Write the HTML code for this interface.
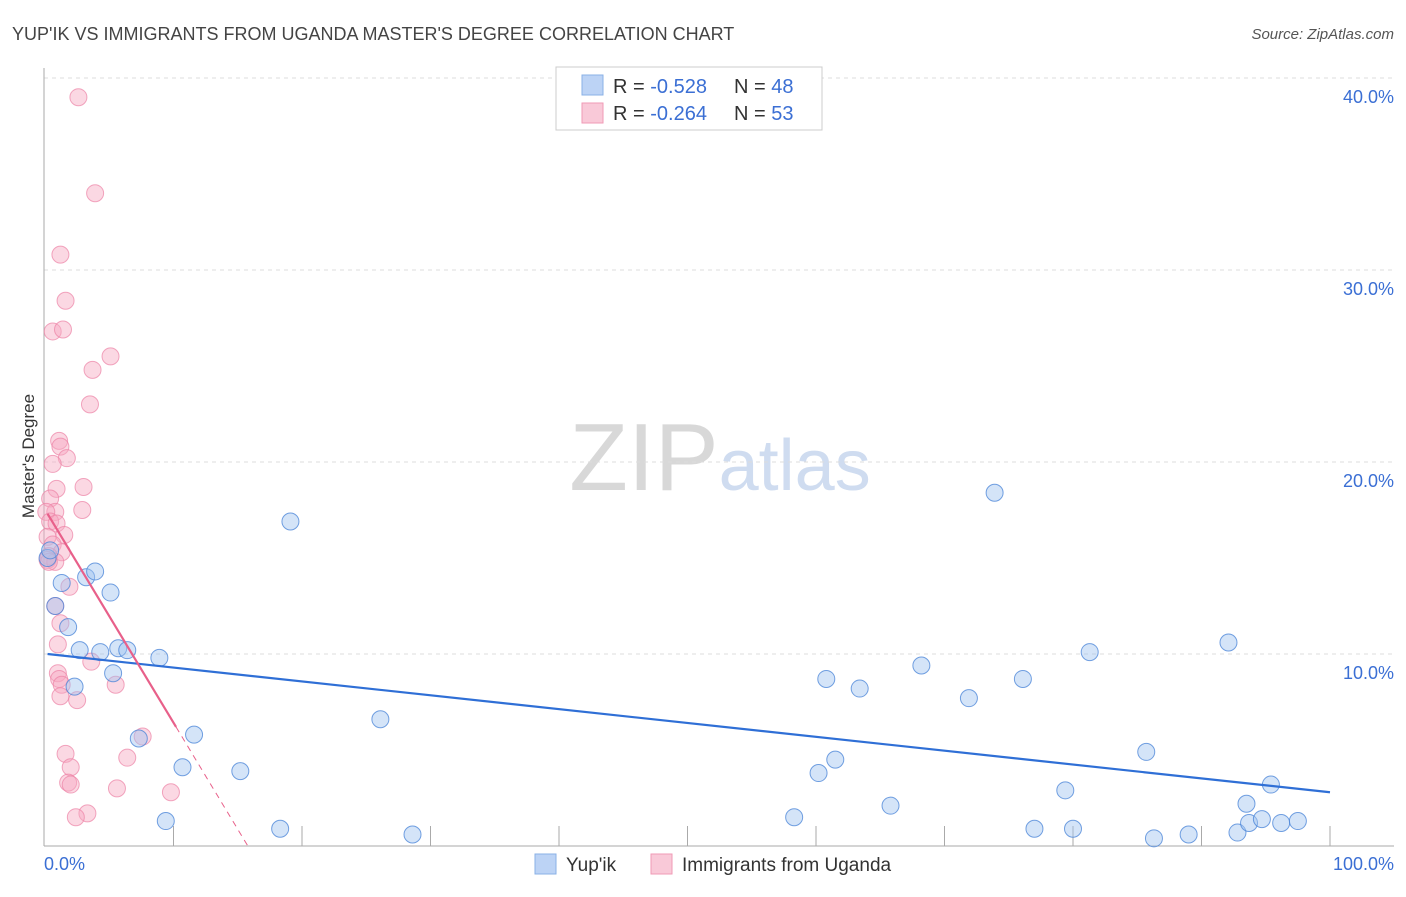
<!DOCTYPE html>
<html><head><meta charset="utf-8"><style>
body{margin:0;background:#fff;font-family:"Liberation Sans",sans-serif;}
svg text{font-family:"Liberation Sans",sans-serif;}
</style></head><body>
<svg id="chart" width="1406" height="892" xmlns="http://www.w3.org/2000/svg">
<text x="12" y="40" font-size="18" fill="#444">YUP'IK VS IMMIGRANTS FROM UGANDA MASTER'S DEGREE CORRELATION CHART</text>
<text x="1394" y="39" font-size="15" fill="#555" font-style="italic" text-anchor="end">Source: ZipAtlas.com</text>
<text x="720" y="490" font-size="96" fill="#ddd" text-anchor="middle" font-family="Liberation Serif"><tspan fill="#d8d8d8">ZIP</tspan><tspan fill="#cfdcf0" font-family="Liberation Sans" font-size="72">atlas</tspan></text>
<g id="grid"></g>
<line x1="44" y1="68" x2="44" y2="846" stroke="#aaa"/>
<line x1="44" y1="846" x2="1394" y2="846" stroke="#aaa"/>
<text transform="translate(34,456) rotate(-90)" font-size="17" fill="#333" text-anchor="middle">Master's Degree</text>
<text x="44" y="870" font-size="18" fill="#3b6fd4">0.0%</text>
<text x="1394" y="870" font-size="18" fill="#3b6fd4" text-anchor="end">100.0%</text>
<g id="ylabels"></g>
<g id="pts"></g>
<g id="lines"></g>
<g>
<rect x="556" y="67" width="266" height="63" fill="#fff" stroke="#ccc"/>
<rect x="582" y="75" width="21" height="20" fill="#bcd3f5" stroke="#8ab0e6"/>
<rect x="582" y="103" width="21" height="20" fill="#f9c9d8" stroke="#f09ab6"/>
<text x="613" y="93" font-size="20" fill="#333">R = <tspan fill="#3b6fd4">-0.528</tspan></text>
<text x="734" y="93" font-size="20" fill="#333">N = <tspan fill="#3b6fd4">48</tspan></text>
<text x="613" y="120" font-size="20" fill="#333">R = <tspan fill="#3b6fd4">-0.264</tspan></text>
<text x="734" y="120" font-size="20" fill="#333">N = <tspan fill="#3b6fd4">53</tspan></text>
</g>
<g>
<rect x="535" y="854" width="21" height="20" fill="#bcd3f5" stroke="#8ab0e6"/>
<text x="566" y="871" font-size="19" fill="#333">Yup'ik</text>
<rect x="651" y="854" width="21" height="20" fill="#f9c9d8" stroke="#f09ab6"/>
<text x="682" y="871" font-size="19" fill="#333">Immigrants from Uganda</text>
</g>
</svg>
<script>
const yTicks=[10,20,30,40];
const yTickLabels=["10.0%","20.0%","30.0%","40.0%"];
const xTicks=[10,20,30,40,50,60,70,80,90,100];
const blueX=[0.8,1.3,1.8,2.7,3.2,3.9,2.3,4.3,5.1,5.3,5.7,6.4,7.3,8.9,9.4,10.7,11.6,15.2,18.3,19.1,26.1,28.6,58.3,60.2,60.8,61.5,63.4,65.8,68.2,71.9,73.9,76.1,77.0,79.4,80.0,81.3,85.7,86.3,89.0,92.1,92.8,93.5,93.7,94.7,95.4,96.2,97.5,0.2,0.4];
const blueY=[12.5,13.7,11.4,10.2,14.0,14.3,8.3,10.1,13.2,9.0,10.3,10.2,5.6,9.8,1.3,4.1,5.8,3.9,0.9,16.9,6.6,0.6,1.5,3.8,8.7,4.5,8.2,2.1,9.4,7.7,18.4,8.7,0.9,2.9,0.9,10.1,4.9,0.4,0.6,10.6,0.7,2.2,1.2,1.4,3.2,1.2,1.3,15.0,15.4];
const pinkX=[2.6,3.9,1.2,1.6,0.6,1.4,5.1,3.7,3.5,1.1,1.2,1.7,0.6,0.9,3.0,0.4,0.8,2.9,0.1,0.4,0.9,1.5,0.2,0.6,1.3,0.3,0.2,0.8,1.9,0.8,1.2,1.0,1.0,1.1,1.3,1.2,2.5,3.6,5.5,7.6,6.4,1.6,2.0,1.8,2.0,3.3,2.4,9.8,5.6,0.3];
const pinkY=[39.0,34.0,30.8,28.4,26.8,26.9,25.5,24.8,23.0,21.1,20.8,20.2,19.9,18.6,18.7,18.1,17.4,17.5,17.4,16.9,16.8,16.2,16.1,15.7,15.3,15.1,14.9,14.8,13.5,12.5,11.6,10.5,9.0,8.7,8.4,7.8,7.6,9.6,8.4,5.7,4.6,4.8,4.1,3.3,3.2,1.7,1.5,2.8,3.0,14.8];
const blueLine=[[0.2,10.0],[100,2.8]];
const pinkLine=[[0.2,17.3],[10.2,6.2]];
const X0=45,X1=1330,YB=846,YT=78;
const sx=v=>X0+(X1-X0)*v/100;
const sy=v=>YB-(YB-YT)*v/40;
const NS="http://www.w3.org/2000/svg";
function mk(tag,attrs,parent){const e=document.createElementNS(NS,tag);for(const k in attrs)e.setAttribute(k,attrs[k]);document.getElementById(parent).appendChild(e);return e;}
yTicks.forEach((t,i)=>{
 const l=mk('line',{x1:44,x2:1394,y1:sy(t),y2:sy(t),stroke:'#ddd','stroke-dasharray':'4,4'},'grid');
 
 
 const tx=mk('text',{x:1394,y:sy(t)+25,'font-size':18,fill:'#3b6fd4','text-anchor':'end'},'ylabels');
 tx.textContent=yTickLabels[i];
 
 
});
xTicks.forEach(t=>{
 const l=mk('line',{x1:sx(t),x2:sx(t),y1:826,y2:846,stroke:'#aaa'},'grid');
 
 
});
pinkX.forEach((x,i)=>{
 const c=mk('circle',{cx:sx(x),cy:sy(pinkY[i]),r:8.5,fill:'rgba(246,168,193,0.45)',stroke:'rgba(236,130,165,0.7)','stroke-width':1},'pts');
 
 
});
blueX.forEach((x,i)=>{
 const c=mk('circle',{cx:sx(x),cy:sy(blueY[i]),r:8.5,fill:'rgba(160,195,240,0.45)',stroke:'rgba(70,130,215,0.75)','stroke-width':1},'pts');
 
 
});
const bl=mk('line',{x1:sx(blueLine[0][0]),y1:sy(blueLine[0][1]),x2:sx(blueLine[1][0]),y2:sy(blueLine[1][1]),stroke:'#2f6fd6','stroke-width':2.2},'lines');


const pl=mk('line',{x1:sx(pinkLine[0][0]),y1:sy(pinkLine[0][1]),x2:sx(pinkLine[1][0]),y2:sy(pinkLine[1][1]),stroke:'#e8608a','stroke-width':2.2},'lines');


const slope=(pinkLine[1][1]-pinkLine[0][1])/(pinkLine[1][0]-pinkLine[0][0]);
const xz=pinkLine[1][0]-pinkLine[1][1]/slope;
const pd=mk('line',{x1:sx(pinkLine[1][0]),y1:sy(pinkLine[1][1]),x2:sx(xz),y2:sy(0),stroke:'#e8608a','stroke-width':1,'stroke-dasharray':'6,5'},'lines');


</script>
</body></html>
